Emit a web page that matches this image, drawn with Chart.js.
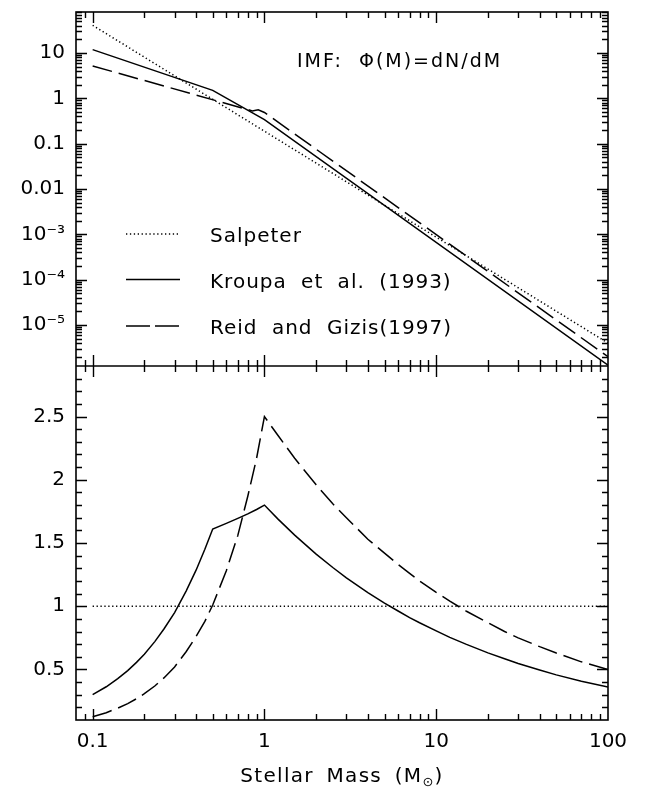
<!DOCTYPE html>
<html>
<head>
<meta charset="utf-8">
<script src="https://cdn.jsdelivr.net/npm/chart.js@4/dist/chart.umd.min.js"></script>
<style>
  html, body { margin: 0; padding: 0; background: #fff; }
  #wrap { width: 646px; height: 788px; }
</style>
</head>
<body>
<div id="wrap"><canvas id="imf" width="646" height="788"></canvas></div>
<script>
// upper panel: IMF Phi(M) = dN/dM (log-log, straight power-law pieces)
var salpMass   = [0.1, 100];
var salpPhi    = [41, 4.0e-6];
var kroupaMass = [0.1, 0.5, 1, 100];
var kroupaPhi  = [11.9, 1.5, 0.34, 1.3e-6];
var reidMass   = [0.1, 0.85, 0.92, 1, 100];
var reidPhi    = [5.2, 0.53, 0.56, 0.49, 2.0e-6];

// lower panel: ratio to Salpeter
var ratioMass   = [0.1, 0.12, 0.14, 0.16, 0.18, 0.2, 0.23, 0.26, 0.3, 0.35, 0.4, 0.45, 0.5, 0.6, 0.7, 0.8, 0.9, 1,
                   1.2, 1.5, 2, 2.5, 3, 4, 5, 6, 7, 8, 10, 12, 15, 20, 25, 30, 40, 50, 70, 100];
var kroupaRatio = [0.30, 0.363, 0.427, 0.491, 0.556, 0.62, 0.72, 0.82, 0.95, 1.12, 1.285, 1.45, 1.61, 1.655, 1.695, 1.73, 1.765, 1.80,
                   1.689, 1.562, 1.412, 1.306, 1.225, 1.108, 1.025, 0.962, 0.91, 0.869, 0.805, 0.754, 0.698, 0.631, 0.584, 0.547, 0.496, 0.457, 0.407, 0.36];
var reidRatio   = [0.125, 0.158, 0.194, 0.23, 0.268, 0.308, 0.369, 0.433, 0.52, 0.64, 0.76, 0.88, 1.01, 1.28, 1.56, 1.87, 2.17, 2.5,
                   2.35, 2.17, 1.96, 1.81, 1.70, 1.53, 1.42, 1.33, 1.26, 1.20, 1.11, 1.04, 0.96, 0.87, 0.80, 0.75, 0.68, 0.63, 0.56, 0.50];
var salpRatioMass = [0.1, 100];
var salpRatio     = [1, 1];

// tick labels
var xTickVals = [0.1, 1, 10, 100];
var xTickLabels = ['0.1', '1', '10', '100'];
var topTickVals = [10, 1, 0.1, 0.01, 1e-3, 1e-4, 1e-5];
var topTickLabels = ['10', '1', '0.1', '0.01', '10\u207B\u00B3', '10\u207B\u2074', '10\u207B\u2075'];
var botTickVals = [0.5, 1, 1.5, 2, 2.5];
var botTickLabels = ['0.5', '1', '1.5', '2', '2.5'];

var legendNames = ['Salpeter', 'Kroupa et al. (1993)', 'Reid and Gizis(1997)'];

var DOT = [1.3, 2.6];
var DASH = [20, 7];
var FONT = '"DejaVu Sans", sans-serif';

function pts(xs, ys) {
  return xs.map(function (m, i) { return { x: m, y: ys[i] }; });
}

function lineSet(label, data, axis, dash) {
  return {
    label: label,
    data: data,
    yAxisID: axis,
    borderColor: '#000',
    borderWidth: 1.5,
    borderDash: dash,
    pointRadius: 0,
    tension: 0,
    fill: false
  };
}

function fixTicks(vals) {
  return function (scale) {
    scale.ticks = vals.map(function (v) { return { value: v }; });
  };
}

function labelFor(vals, labels) {
  return function (v) {
    for (var i = 0; i < vals.length; i++) {
      if (Math.abs(vals[i] - v) <= vals[i] * 1e-6) return labels[i];
    }
    return '';
  };
}

function yFit(s) {
  s.width = 76;
  s.paddingTop = 0;
  s.paddingBottom = 0;
}

// frame, inward ticks, legend and annotations
var framePlugin = {
  id: 'frame',
  afterDraw: function (chart) {
    var ctx = chart.ctx, a = chart.chartArea;
    var sx = chart.scales.x, yt = chart.scales.yTop, yb = chart.scales.yBot;
    var mid = yt.bottom;
    var i, k, v, p, len;
    ctx.save();
    ctx.strokeStyle = '#000';
    ctx.lineWidth = 1.6;
    ctx.strokeRect(a.left, a.top, a.right - a.left, a.bottom - a.top);
    ctx.beginPath();
    ctx.moveTo(a.left, mid); ctx.lineTo(a.right, mid);
    ctx.stroke();

    ctx.lineWidth = 1.4;
    ctx.beginPath();
    // x ticks: top, middle (both ways), bottom
    for (i = -2; i <= 2; i++) {
      for (k = 1; k <= 9; k++) {
        v = k * Math.pow(10, i);
        if (v <= sx.min || v >= sx.max) continue;
        p = Math.round(sx.getPixelForValue(v)) + 0.5;
        len = k === 1 ? 11 : 6;
        ctx.moveTo(p, a.top); ctx.lineTo(p, a.top + len);
        ctx.moveTo(p, mid - len); ctx.lineTo(p, mid + len);
        ctx.moveTo(p, a.bottom); ctx.lineTo(p, a.bottom - len);
      }
    }
    // log y ticks on upper panel
    for (i = -7; i <= 2; i++) {
      for (k = 1; k <= 9; k++) {
        v = k * Math.pow(10, i);
        if (v <= yt.min || v >= yt.max) continue;
        p = Math.round(yt.getPixelForValue(v)) + 0.5;
        len = k === 1 ? 11 : 6;
        ctx.moveTo(a.left, p); ctx.lineTo(a.left + len, p);
        ctx.moveTo(a.right, p); ctx.lineTo(a.right - len, p);
      }
    }
    // linear y ticks on lower panel
    for (i = 1; i < 30; i++) {
      v = i / 10;
      if (v <= yb.min + 1e-9 || v >= yb.max - 1e-9) continue;
      p = Math.round(yb.getPixelForValue(v)) + 0.5;
      len = i % 5 === 0 ? 11 : 6;
      ctx.moveTo(a.left, p); ctx.lineTo(a.left + len, p);
      ctx.moveTo(a.right, p); ctx.lineTo(a.right - len, p);
    }
    ctx.stroke();

    // legend
    var dashes = [DOT, [], [24, 5]];
    var rows = [234, 279.5, 326];
    ctx.lineWidth = 1.5;
    for (i = 0; i < 3; i++) {
      ctx.setLineDash(dashes[i]);
      ctx.beginPath();
      ctx.moveTo(126, rows[i]); ctx.lineTo(180, rows[i]);
      ctx.stroke();
    }
    ctx.setLineDash([]);
    ctx.fillStyle = '#000';
    ctx.textAlign = 'left';
    ctx.textBaseline = 'alphabetic';
    ctx.font = '20px ' + FONT;
    ctx.letterSpacing = '1px';
    ctx.wordSpacing = '7px';
    for (i = 0; i < 3; i++) {
      ctx.fillText(legendNames[i], 210, rows[i] + 8);
    }

    // annotation
    ctx.font = '19px ' + FONT;
    ctx.letterSpacing = '2px';
    ctx.wordSpacing = '0px';
    ctx.fillText('IMF:  \u03A6(M)=dN/dM', 297, 67);

    // x axis title with subscript sun symbol
    ctx.letterSpacing = '1.3px';
    ctx.wordSpacing = '5px';
    var t1 = 'Stellar Mass (M', t3 = ')';
    ctx.font = '13px ' + FONT;
    var w2 = ctx.measureText('\u2299').width;
    ctx.font = '20px ' + FONT;
    var w1 = ctx.measureText(t1).width, w3 = ctx.measureText(t3).width;
    var x0 = 342 - (w1 + w2 + w3) / 2;
    ctx.fillText(t1, x0, 782);
    ctx.font = '13px ' + FONT;
    ctx.fillText('\u2299', x0 + w1, 786);
    ctx.font = '20px ' + FONT;
    ctx.fillText(t3, x0 + w1 + w2, 782);
    ctx.restore();
  }
};

var ctx = document.getElementById('imf').getContext('2d');
var chart = new Chart(ctx, {
  type: 'line',
  data: {
    datasets: [
      lineSet('Salpeter', pts(salpMass, salpPhi), 'yTop', DOT),
      lineSet('Kroupa et al. (1993)', pts(kroupaMass, kroupaPhi), 'yTop', []),
      lineSet('Reid and Gizis(1997)', pts(reidMass, reidPhi), 'yTop', DASH),
      lineSet('Salpeter ratio', pts(salpRatioMass, salpRatio), 'yBot', DOT),
      lineSet('Kroupa ratio', pts(ratioMass, kroupaRatio), 'yBot', []),
      lineSet('Reid ratio', pts(ratioMass, reidRatio), 'yBot', DASH)
    ]
  },
  options: {
    responsive: false,
    animation: false,
    devicePixelRatio: 1,
    layout: { padding: { top: 12, right: 38, left: 0, bottom: 0 } },
    plugins: { legend: { display: false }, tooltip: { enabled: false } },
    scales: {
      x: {
        type: 'logarithmic',
        min: 0.08,
        max: 100,
        afterBuildTicks: fixTicks(xTickVals),
        afterFit: function (s) { s.height = 68; },
        grid: { display: false, drawTicks: false },
        border: { display: false },
        ticks: {
          color: '#000',
          padding: 10,
          maxRotation: 0,
          autoSkip: false,
          font: { family: FONT, size: 20 },
          callback: labelFor(xTickVals, xTickLabels)
        }
      },
      yBot: {
        type: 'linear',
        position: 'left',
        stack: 'panels',
        stackWeight: 1,
        min: 0.1,
        max: 2.9,
        afterBuildTicks: fixTicks(botTickVals),
        afterFit: yFit,
        grid: { display: false, drawTicks: false },
        border: { display: false },
        ticks: {
          color: '#000',
          padding: 11,
          autoSkip: false,
          font: { family: FONT, size: 20 },
          callback: labelFor(botTickVals, botTickLabels)
        }
      },
      yTop: {
        type: 'logarithmic',
        position: 'left',
        stack: 'panels',
        stackWeight: 1,
        min: 1.25e-6,
        max: 80.5,
        afterBuildTicks: fixTicks(topTickVals),
        afterFit: yFit,
        grid: { display: false, drawTicks: false },
        border: { display: false },
        ticks: {
          color: '#000',
          padding: 11,
          autoSkip: false,
          font: { family: FONT, size: 20 },
          callback: labelFor(topTickVals, topTickLabels)
        }
      }
    }
  },
  plugins: [framePlugin]
});
</script>
</body>
</html>
